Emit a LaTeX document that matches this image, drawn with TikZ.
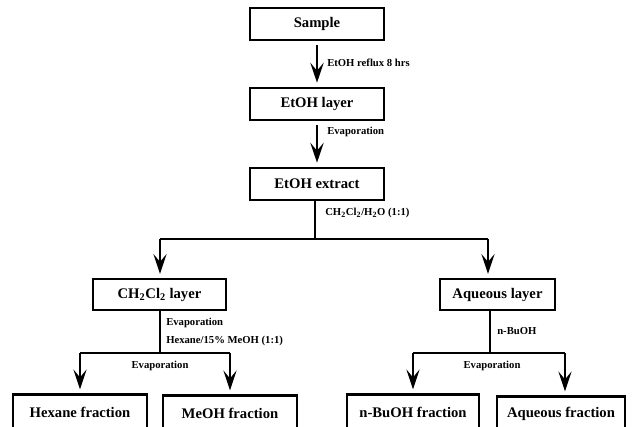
\documentclass[tikz,border=0pt]{standalone}
\usepackage{fontspec}
\setmainfont{Liberation Serif}
\usetikzlibrary{arrows.meta}
\tikzset{
  stepbox/.style={draw, line width=1.9pt, font=\fontsize{11}{13}\selectfont\bfseries, minimum height=24pt, inner sep=0pt},
  flow/.style={line width=1.5pt, shorten >=3pt, -{Stealth[length=15pt,width=10pt,inset=6pt]}},
  link/.style={line width=1.5pt},
  note/.style={font=\fontsize{8}{9.5}\selectfont\bfseries, inner sep=0pt, anchor=west},
  midnote/.style={font=\fontsize{8}{9.5}\selectfont\bfseries, inner sep=0pt},
}
\begin{document}
\begin{tikzpicture}[x=0.75pt, y=-0.75pt]
\useasboundingbox (0,0) rectangle (633,426);
\clip (0,0) rectangle (633,426);
% main column
\node[stepbox, minimum width=100.5pt] (sample) at (317,24) {Sample};
\node[stepbox, minimum width=100.5pt] (etohl) at (317,104) {EtOH layer};
\node[stepbox, minimum width=100.5pt] (extract) at (317,184) {EtOH extract};
% layers
\node[stepbox, minimum width=100pt, minimum height=23pt] (ch2) at (159.5,294.5) {CH\textsubscript{2}Cl\textsubscript{2} layer};
\node[stepbox, minimum width=86pt, minimum height=23pt] (aqu) at (497.5,294.5) {Aqueous layer};
% fractions
\node[stepbox, minimum width=100.5pt, minimum height=26pt] (hex) at (80,412) {Hexane fraction};
\node[stepbox, minimum width=100.5pt, minimum height=26pt] (meoh) at (230,413) {MeOH fraction};
\node[stepbox, minimum width=99pt, minimum height=26pt] (nbuf) at (413,412) {n-BuOH fraction};
\node[stepbox, minimum width=96pt, minimum height=26pt] (aquf) at (561,414) {Aqueous fraction};

% labels
\node[note] (reflux) at (327,63) {EtOH reflux 8 hrs};
\node[note] (evapa) at (327,132) {Evaporation};
\node[note] (solv) at (325,213) {CH\textsubscript{2}Cl\textsubscript{2}/H\textsubscript{2}O (1:1)};
\node[note] (evapb) at (166,323) {Evaporation};
\node[note] (hexmix) at (166,341) {Hexane/15\% MeOH (1:1)};
\node[midnote] (evapc) at (160,366) {Evaporation};
\node[note] (nbu) at (497,331) {n-BuOH};
\node[midnote] (evapd) at (492,366) {Evaporation};

% junctions
\coordinate (split) at (315,239);
\coordinate (jl) at (160,239);
\coordinate (jr) at (488,239);
\coordinate (lsplit) at (160,353);
\coordinate (ljl) at (80,353);
\coordinate (ljr) at (230,353);
\coordinate (rsplit) at (490,353);
\coordinate (rjl) at (413,353);
\coordinate (rjr) at (565,353);

% connectors
\draw[flow, shorten <=3pt] (sample) -- (etohl);
\draw[flow, shorten <=3pt] (etohl) -- (extract);
\draw[link] (extract.south -| split) -- (split);
\draw[link] (jl) -- (jr);
\draw[flow] (jl) -- (jl |- ch2.north);
\draw[flow] (jr) -- (jr |- aqu.north);
\draw[link] (ch2.south -| lsplit) -- (lsplit);
\draw[link] (ljl) -- (ljr);
\draw[flow] (ljl) -- (ljl |- hex.north);
\draw[flow] (ljr) -- (ljr |- meoh.north);
\draw[link] (aqu.south -| rsplit) -- (rsplit);
\draw[link] (rjl) -- (rjr);
\draw[flow] (rjl) -- (rjl |- nbuf.north);
\draw[flow] (rjr) -- (rjr |- aquf.north);
\end{tikzpicture}
\end{document}
